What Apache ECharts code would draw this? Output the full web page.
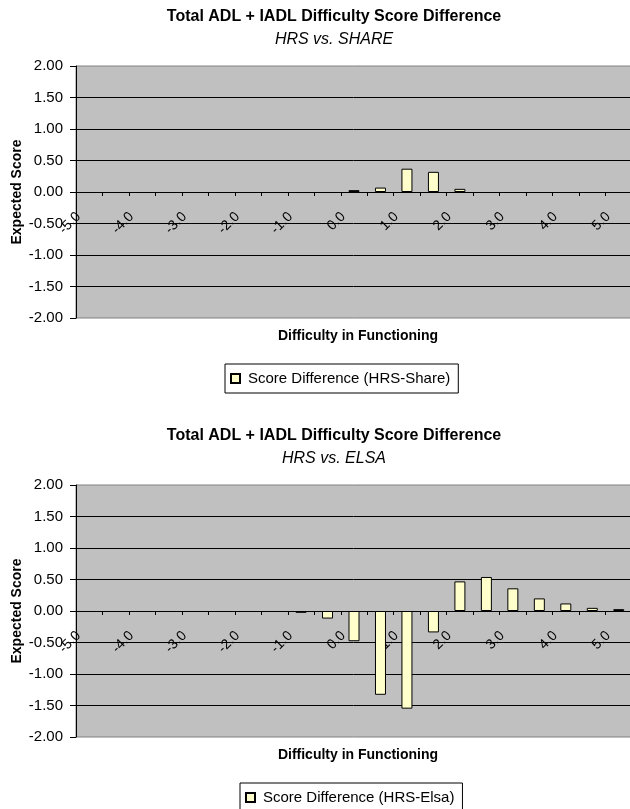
<!DOCTYPE html>
<html>
<head>
<meta charset="utf-8">
<script src="https://cdn.jsdelivr.net/npm/echarts@6/dist/echarts.min.js"></script>
<style>
html, body{
    margin:0;
    padding:0;
    background:#fff;
    overflow:hidden;
}
.chart-main{
    width:630px;
}
</style>
</head>
<body>
<div id="main_SHARE" class="chart-main" style="height:419px"></div>
<div id="main_ELSA" class="chart-main" style="height:390px"></div>
<script>
    // difficulty levels on the x axis
    var categories = ['-5.0', '-4.5', '-4.0', '-3.5', '-3.0', '-2.5', '-2.0', '-1.5', '-1.0', '-0.5',
        '0.0', '0.5', '1.0', '1.5', '2.0', '2.5', '3.0', '3.5', '4.0', '4.5', '5.0'];
    // score difference, HRS minus SHARE (null = no bar drawn)
    var share_data = [null, null, null, null, null, null, null, null, null, null,
        0.03, 0.07, 0.37, 0.32, 0.05, null, null, null, null, null, null];
    // score difference, HRS minus ELSA
    var elsa_data = [null, null, null, null, null, null, null, null, -0.03, -0.12,
        -0.48, -1.33, -1.55, -0.34, 0.47, 0.54, 0.36, 0.20, 0.12, 0.05, 0.03];
    var y_min = -2;
    var y_max = 2;
    var y_step = 0.5;

    var font = 'Liberation Sans, Arial, sans-serif';
    var plot_height = 252;

    /**
     * build one panel
     */
    function buildOption(subtitle, series_name, data, legend_left){
        return {
            animation: false,
            textStyle: {fontFamily: font, color: '#000'},
            title: [
                {
                    text: 'Total ADL + IADL Difficulty Score Difference',
                    left: 334, top: 9, padding: 0,
                    textAlign: 'center',
                    textStyle: {fontFamily: font, fontSize: 16, fontWeight: 'bold', color: '#000'}
                },
                {
                    text: subtitle,
                    left: 334, top: 32, padding: 0,
                    textAlign: 'center',
                    textStyle: {fontFamily: font, fontSize: 16, fontStyle: 'italic', fontWeight: 'normal', color: '#000'}
                },
                {
                    text: 'Difficulty in Functioning',
                    left: 358, top: 329, padding: 0,
                    textAlign: 'center',
                    textStyle: {fontFamily: font, fontSize: 14, fontWeight: 'bold', color: '#000'}
                }
            ],
            legend: {
                data: [series_name],
                left: legend_left,
                top: 364,
                orient: 'horizontal',
                padding: [7, 8, 7, 5],
                borderColor: '#000',
                borderWidth: 1,
                itemWidth: 9,
                itemHeight: 9,
                icon: 'rect',
                textStyle: {fontFamily: font, fontSize: 15, color: '#000', padding: [0, 0, 0, 3]}
            },
            grid: {
                left: 76,
                right: -2,
                top: 66,
                height: plot_height,
                outerBoundsMode: 'none',
                containLabel: false,
                show: true,
                backgroundColor: '#C0C0C0',
                borderColor: '#808080',
                borderWidth: 1
            },
            xAxis: {
                type: 'category',
                data: categories,
                position: 'bottom',
                // sit the category axis on the zero line
                offset: -plot_height / 2,
                axisLine: {onZero: false, lineStyle: {color: '#000', width: 1}},
                axisTick: {show: true, interval: 0, length: 4, lineStyle: {color: '#000'}},
                axisLabel: {
                    interval: 1,
                    rotate: 45,
                    margin: 12,
                    padding: [0, 15, 0, 0],
                    fontFamily: font,
                    fontSize: 14,
                    color: '#000'
                },
                splitLine: {show: false}
            },
            yAxis: {
                type: 'value',
                min: y_min,
                max: y_max,
                interval: y_step,
                name: 'Expected Score',
                nameLocation: 'middle',
                nameGap: 52,
                nameMoveOverlap: false,
                nameTextStyle: {fontFamily: font, fontSize: 14, fontWeight: 'bold', color: '#000'},
                axisLine: {show: true, lineStyle: {color: '#000', width: 1}},
                axisTick: {show: true, length: 6, lineStyle: {color: '#000'}},
                axisLabel: {
                    margin: 13,
                    fontFamily: font,
                    fontSize: 15,
                    color: '#000',
                    formatter: function(v){ return v.toFixed(2); }
                },
                splitLine: {show: true, showMinLine: false, showMaxLine: false, lineStyle: {color: '#000', width: 1}}
            },
            series: [
                {
                    name: series_name,
                    type: 'bar',
                    data: data,
                    barWidth: 11,
                    itemStyle: {color: '#FFFFCC', borderColor: '#000', borderWidth: 1}
                }
            ]
        };
    }

    var chart_SHARE = echarts.init(document.getElementById('main_SHARE'));
    chart_SHARE.setOption(buildOption('HRS vs. SHARE', 'Score Difference (HRS-Share)', share_data, 225));

    var chart_ELSA = echarts.init(document.getElementById('main_ELSA'));
    chart_ELSA.setOption(buildOption('HRS vs. ELSA', 'Score Difference (HRS-Elsa)', elsa_data, 240));
</script>
</body>
</html>
